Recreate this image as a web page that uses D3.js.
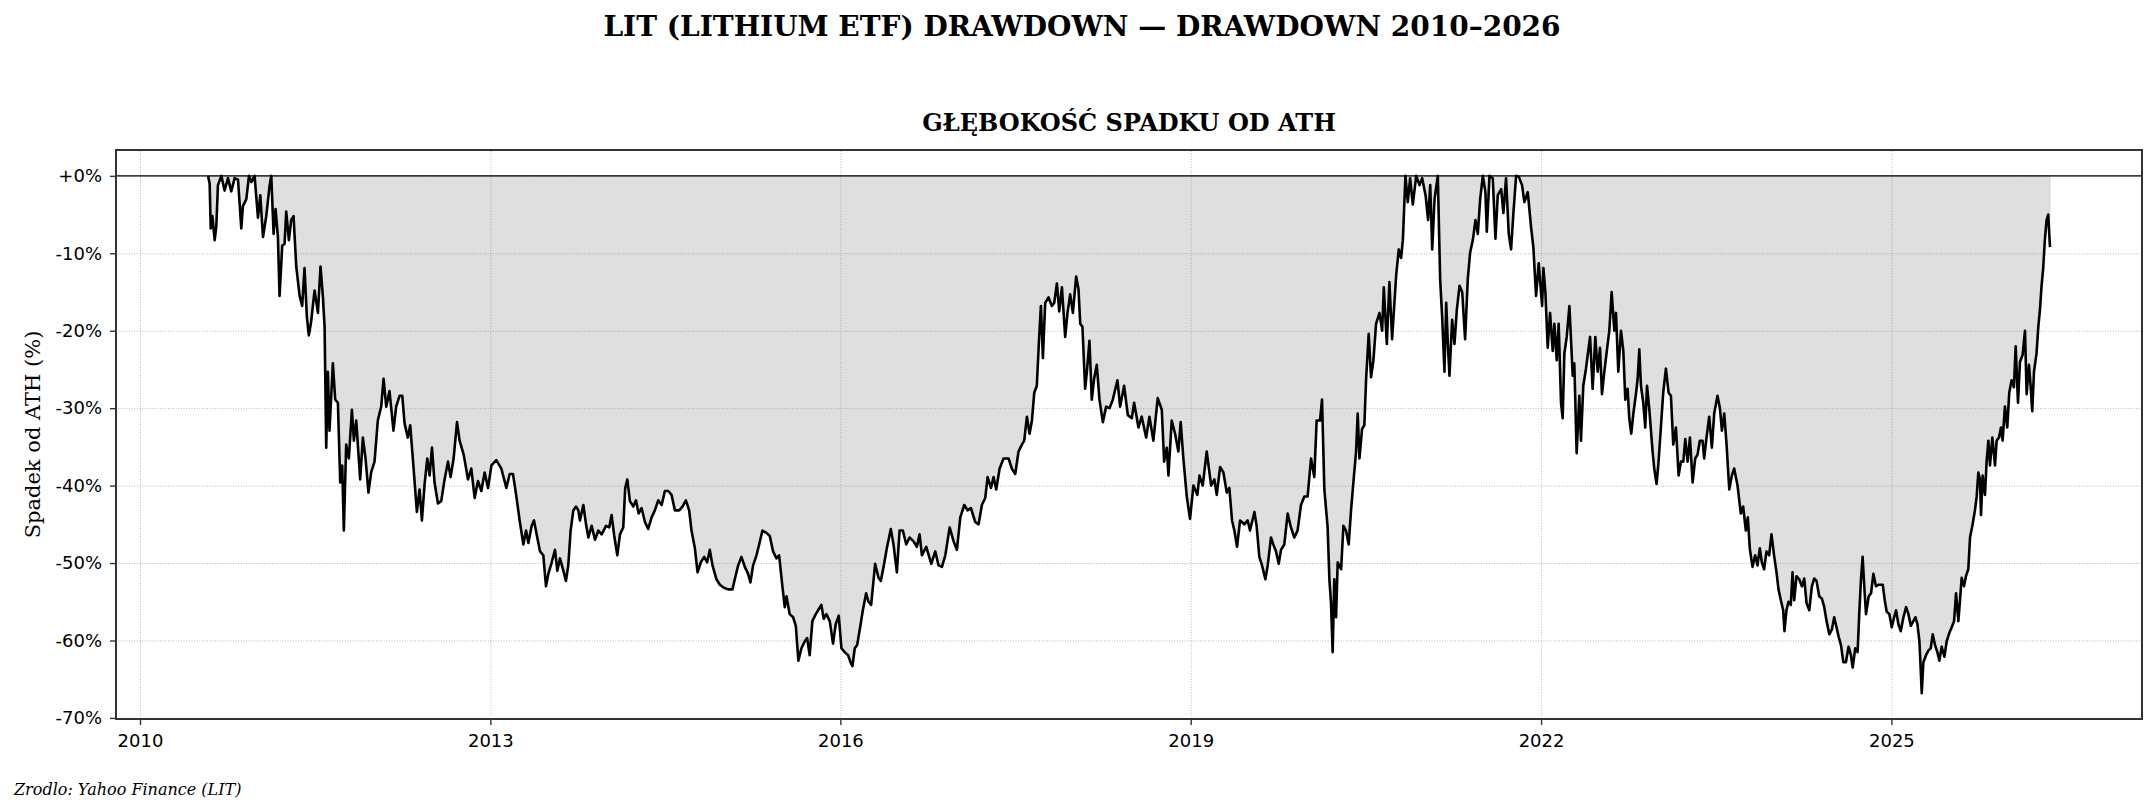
<!DOCTYPE html>
<html lang="pl">
<head>
<meta charset="utf-8">
<title>LIT drawdown</title>
<script src="https://cdn.jsdelivr.net/npm/d3@7"></script>
<style>
  body { margin: 0; background: #fff; }
  .tick text { font-family: "DejaVu Sans", sans-serif; font-size: 18px; fill: #000; }
  .axis .tick line { stroke: #333; stroke-width: 1.4; }
  .grid .tick line { stroke: #b8b8b8; stroke-width: 1; stroke-dasharray: 1,1.6; }
  .grid .domain { display: none; }
</style>
</head>
<body>
<div id="chart"></div>
<script>
// texts
const pageTitle = "LIT (LITHIUM ETF) DRAWDOWN \u2014 DRAWDOWN 2010\u20132026";
const panelTitle = "GŁĘBOKOŚĆ SPADKU OD ATH";
const yLabel = "Spadek od ATH (%)";
const sourceNote = "Zrodlo: Yahoo Finance (LIT)";

// ticks
const xTickYears = [2010, 2013, 2016, 2019, 2022, 2025];
const yTickValues = [0, -10, -20, -30, -40, -50, -60, -70];

// drawdown from all-time high, [fractional year, %]
const drawdown = [
  [2010.583, 0], [2010.597, -1], [2010.606, -6.8], [2010.620, -5.2], [2010.640, -8.3], [2010.654, -6.5],
  [2010.668, -1.2], [2010.697, 0], [2010.725, -1.9], [2010.754, -0.3], [2010.782, -2], [2010.811, -0.3],
  [2010.840, -0.5], [2010.868, -6.8], [2010.882, -3.9], [2010.911, -3], [2010.934, 0], [2010.954, -0.8],
  [2010.982, 0], [2011.011, -5.4], [2011.031, -2.5], [2011.054, -7.9], [2011.082, -5.2], [2011.111, -1.2],
  [2011.125, 0], [2011.145, -7.5], [2011.162, -4.3], [2011.182, -7.9], [2011.196, -15.5], [2011.219, -9],
  [2011.239, -8.8], [2011.253, -4.6], [2011.276, -8.3], [2011.296, -5.7], [2011.316, -5.2], [2011.339, -11.7],
  [2011.368, -15.5], [2011.390, -16.8], [2011.410, -11.9], [2011.430, -18.2], [2011.447, -20.6], [2011.467, -18.8],
  [2011.496, -14.8], [2011.525, -17.7], [2011.547, -11.7], [2011.567, -15.5], [2011.582, -19.5], [2011.596, -35.1],
  [2011.610, -25.3], [2011.624, -32.9], [2011.653, -24.2], [2011.673, -28.9], [2011.696, -29.3], [2011.716, -39.6],
  [2011.733, -37.4], [2011.747, -45.8], [2011.767, -34.7], [2011.790, -36.5], [2011.816, -30.2], [2011.833, -34.2],
  [2011.853, -31.6], [2011.887, -39.2], [2011.910, -33.8], [2011.933, -36.5], [2011.958, -40.9], [2011.981, -38.3],
  [2012.010, -36.9], [2012.038, -31.6], [2012.067, -29.8], [2012.087, -26.2], [2012.110, -29.8], [2012.138, -27.8],
  [2012.172, -32.9], [2012.195, -29.8], [2012.224, -28.4], [2012.247, -28.4], [2012.267, -32], [2012.295, -33.8],
  [2012.315, -32.2], [2012.344, -37.8], [2012.372, -43.4], [2012.395, -40.5], [2012.415, -44.5], [2012.438, -39.8],
  [2012.461, -36.5], [2012.481, -38.7], [2012.501, -35.1], [2012.523, -39.6], [2012.552, -42.3], [2012.580, -42],
  [2012.609, -39.2], [2012.638, -36.9], [2012.660, -38.9], [2012.686, -36.5], [2012.715, -31.8], [2012.737, -34.2],
  [2012.772, -36], [2012.809, -39.2], [2012.837, -37.8], [2012.866, -41.6], [2012.894, -39.4], [2012.923, -40.7],
  [2012.951, -38.3], [2012.980, -40.3], [2013.009, -37.4], [2013.051, -36.7], [2013.094, -37.8], [2013.137, -40.3],
  [2013.166, -38.5], [2013.194, -38.5], [2013.223, -41.4], [2013.251, -44.5],
  [2013.283, -47.6], [2013.306, -45.8], [2013.326, -47.4], [2013.354, -45.2], [2013.374, -44.5], [2013.397, -46.3],
  [2013.426, -48.5], [2013.454, -49], [2013.477, -53], [2013.497, -51.4], [2013.526, -49.9], [2013.554, -48.3],
  [2013.574, -51], [2013.597, -49.4], [2013.626, -51], [2013.648, -52.3], [2013.668, -50.3], [2013.688, -45.8],
  [2013.711, -43.2], [2013.734, -42.7], [2013.754, -43.2], [2013.768, -44.5], [2013.797, -42.5], [2013.820, -45],
  [2013.840, -46.7], [2013.868, -45.2], [2013.897, -47], [2013.925, -45.8], [2013.954, -46.3], [2013.991, -45.2],
  [2014.019, -45.4], [2014.039, -43.8], [2014.062, -46.5], [2014.088, -49], [2014.111, -46.3], [2014.139, -45.4],
  [2014.156, -40.3], [2014.174, -39.2], [2014.196, -42], [2014.225, -42.7], [2014.248, -41.9], [2014.271, -43.6],
  [2014.296, -42.9], [2014.325, -44.7], [2014.353, -45.6], [2014.382, -44.1], [2014.410, -43.2], [2014.439, -41.9],
  [2014.468, -42.5], [2014.496, -40.7], [2014.525, -40.7], [2014.553, -41.2], [2014.582, -43.2], [2014.619, -43.2],
  [2014.647, -42.7], [2014.676, -41.9], [2014.704, -43.2], [2014.724, -45.8], [2014.753, -48.1], [2014.776, -51.2],
  [2014.804, -49.9], [2014.833, -49.2], [2014.858, -49.9], [2014.881, -48.3], [2014.904, -50.3], [2014.938, -52.1],
  [2014.967, -52.8], [2015.001, -53.2], [2015.038, -53.4], [2015.075, -53.4], [2015.095, -52.1], [2015.124, -50.3],
  [2015.152, -49.2], [2015.181, -50.5], [2015.209, -51.4], [2015.229, -52.5], [2015.252, -50.3], [2015.281, -49],
  [2015.304, -47.6], [2015.332, -45.8], [2015.366, -46.1], [2015.395, -46.5], [2015.423, -48.5], [2015.452, -49.4],
  [2015.475, -49], [2015.503, -53], [2015.523, -55.7], [2015.538, -54.3], [2015.566, -56.6], [2015.595, -57],
  [2015.618, -58.1], [2015.640, -62.6], [2015.666, -61], [2015.695, -60.1], [2015.715, -59.7], [2015.737, -61.9],
  [2015.760, -57.5], [2015.789, -56.6], [2015.817, -55.9], [2015.837, -55.4], [2015.857, -57.2], [2015.880, -56.6],
  [2015.909, -57.5], [2015.937, -60.4], [2015.960, -57.9], [2015.986, -56.8], [2016.009, -61], [2016.037, -61.5],
  [2016.066, -61.9], [2016.086, -62.8], [2016.103, -63.3], [2016.123, -61], [2016.143, -60.6],
  [2016.169, -58.3], [2016.192, -56.1], [2016.220, -53.9], [2016.240, -55], [2016.263, -55.4], [2016.297, -50.1],
  [2016.326, -51.9], [2016.346, -52.3], [2016.369, -50.5], [2016.397, -48.1], [2016.431, -45.6], [2016.454, -47.6],
  [2016.483, -51.2], [2016.506, -45.8], [2016.534, -45.8], [2016.563, -47.6], [2016.591, -46.7], [2016.625, -47.2],
  [2016.654, -47.9], [2016.677, -46.3], [2016.697, -49], [2016.734, -47.9], [2016.777, -50.1], [2016.811, -48.5],
  [2016.839, -50.3], [2016.868, -50.5], [2016.897, -49], [2016.934, -45.4], [2016.968, -47.2], [2016.996, -48.3],
  [2017.025, -44.1], [2017.059, -42.5], [2017.088, -43.2], [2017.116, -42.9], [2017.153, -44.7], [2017.182, -45],
  [2017.210, -42.5], [2017.239, -41.6], [2017.259, -38.9], [2017.288, -40.3], [2017.310, -38.9], [2017.333, -40.5],
  [2017.362, -37.8], [2017.396, -36.5], [2017.439, -36.5], [2017.467, -37.8], [2017.496, -38.5], [2017.524, -35.6],
  [2017.553, -34.7], [2017.573, -34.2], [2017.596, -31.1], [2017.619, -33.3], [2017.639, -31.6], [2017.659, -28],
  [2017.681, -27.1], [2017.701, -20.8], [2017.716, -16.8], [2017.733, -23.5], [2017.753, -16.4], [2017.781, -15.7],
  [2017.810, -16.8], [2017.830, -16.4], [2017.853, -13.9], [2017.873, -17.5], [2017.896, -14.4], [2017.924, -20.8],
  [2017.944, -17.7], [2017.967, -15.3], [2017.990, -17.7], [2018.018, -13], [2018.038, -14.6], [2018.053, -19.1],
  [2018.072, -19.5], [2018.095, -27.5], [2018.110, -25.3], [2018.132, -21.3], [2018.152, -28.9], [2018.172, -26.2],
  [2018.195, -24.4], [2018.218, -28.9], [2018.247, -31.8], [2018.275, -29.8], [2018.304, -30], [2018.332, -28.9],
  [2018.372, -26.4], [2018.395, -29.8], [2018.429, -27.1], [2018.461, -30.9], [2018.495, -31.3], [2018.515, -29.3],
  [2018.552, -32.5], [2018.580, -31.1], [2018.618, -33.8], [2018.646, -31.1], [2018.680, -34.2], [2018.717, -28.7],
  [2018.752, -30.2], [2018.772, -36.9], [2018.795, -35.1], [2018.809, -38.7], [2018.837, -31.6], [2018.866, -33.3],
  [2018.894, -35.6], [2018.914, -31.8], [2018.937, -36.5], [2018.966, -41.4], [2018.994, -44.3], [2019.023, -40],
  [2019.057, -41.2],
  [2019.075, -38.7], [2019.103, -40], [2019.137, -35.6], [2019.175, -40], [2019.203, -39.2], [2019.223, -41.2],
  [2019.252, -37.6], [2019.280, -38.3], [2019.309, -40.9], [2019.331, -40.3], [2019.354, -44.5], [2019.374, -45.8],
  [2019.397, -47.9], [2019.423, -44.5], [2019.460, -45], [2019.488, -44.5], [2019.508, -45.8], [2019.546, -43.4],
  [2019.565, -45.2], [2019.588, -49.2], [2019.611, -50.3], [2019.640, -52.1], [2019.660, -50.3], [2019.688, -46.7],
  [2019.708, -47.6], [2019.731, -48.5], [2019.754, -50.1], [2019.774, -48.3], [2019.802, -47.6], [2019.831, -43.6],
  [2019.859, -45.4], [2019.888, -46.7], [2019.916, -45.8], [2019.945, -42.5], [2019.974, -41.4], [2020.002, -41.4],
  [2020.031, -36.5], [2020.059, -38.9], [2020.079, -31.6], [2020.108, -31.6], [2020.125, -28.9], [2020.145, -40.5],
  [2020.173, -45.4], [2020.188, -52.1], [2020.202, -55.2], [2020.216, -61.5], [2020.230, -52.1], [2020.245, -57],
  [2020.259, -49.9], [2020.288, -50.8], [2020.308, -45.2], [2020.330, -45.8], [2020.353, -47.6], [2020.373, -43.2],
  [2020.393, -39.6], [2020.416, -35.6], [2020.430, -30.7], [2020.445, -36.5], [2020.467, -32.7], [2020.487, -32.2],
  [2020.502, -26.2], [2020.524, -20.4], [2020.544, -26], [2020.564, -23.9], [2020.587, -19.1], [2020.616, -17.7],
  [2020.639, -20], [2020.653, -14.4], [2020.679, -21.7], [2020.701, -13.7], [2020.724, -21.1], [2020.759, -12.8],
  [2020.781, -9.5], [2020.801, -10.6], [2020.816, -8.3], [2020.838, 0], [2020.858, -3.4], [2020.878, -0.3],
  [2020.901, -3.7], [2020.930, 0], [2020.958, -1.2], [2020.981, -0.3], [2021.010, -2.5], [2021.032, -5.7],
  [2021.050, -1.2], [2021.067, -9.5], [2021.087, -3], [2021.115, 0], [2021.135, -13.3], [2021.152, -18.2],
  [2021.172, -25.3], [2021.187, -16.4], [2021.201, -21.7], [2021.215, -25.8], [2021.238, -18.6], [2021.258, -21.7],
  [2021.278, -17.3], [2021.301, -14.2], [2021.324, -15], [2021.349, -21.1], [2021.372, -13.3], [2021.392, -9.9],
  [2021.415, -8.3], [2021.438, -5.7], [2021.458, -7.5], [2021.478, -3], [2021.501, 0], [2021.523, -2.1],
  [2021.535, -7.2], [2021.558, 0], [2021.586, -0.3], [2021.609, -8.1], [2021.629, -2.5], [2021.658, -1.7],
  [2021.677, -4.8], [2021.700, -0.3], [2021.723, -7.5], [2021.743, -9.5], [2021.763, -4.8], [2021.786, 0],
  [2021.809, -0.1], [2021.837, -1.2], [2021.857, -3.4], [2021.886, -2.1], [2021.914, -6.6], [2021.934, -9.2],
  [2021.957, -15.5], [2021.980, -11.3],
  [2022.009, -16.8], [2022.020, -11.9], [2022.037, -15], [2022.057, -22.2], [2022.077, -17.7], [2022.100, -22.6],
  [2022.114, -19.1], [2022.134, -23.8], [2022.151, -19.1], [2022.171, -29.3], [2022.185, -31.3], [2022.200, -22.9],
  [2022.220, -20.8], [2022.243, -16.8], [2022.271, -25.8], [2022.285, -24.2], [2022.305, -35.8], [2022.328, -28.4],
  [2022.342, -34.2], [2022.362, -27.1], [2022.385, -24.9], [2022.400, -23.1], [2022.420, -20.8], [2022.442, -27.5],
  [2022.465, -20.8], [2022.485, -25.3], [2022.505, -22.2], [2022.522, -28.2], [2022.542, -25.3], [2022.571, -21.7],
  [2022.585, -20], [2022.605, -15], [2022.628, -20], [2022.642, -17.7], [2022.662, -25.3], [2022.685, -20],
  [2022.705, -22.6], [2022.722, -28.9], [2022.742, -27.5], [2022.756, -31.3], [2022.773, -33.3], [2022.791, -30.7],
  [2022.813, -28.2], [2022.828, -26.2], [2022.842, -22.4], [2022.856, -27.1], [2022.876, -29.3], [2022.893, -32.5],
  [2022.908, -27.1], [2022.928, -30.2], [2022.956, -35.6], [2022.970, -37.8], [2022.990, -39.8], [2023.007, -36.9],
  [2023.027, -32.5], [2023.047, -28], [2023.070, -24.9], [2023.093, -28], [2023.113, -28.4], [2023.133, -34.7],
  [2023.156, -32.5], [2023.179, -38.7], [2023.199, -36.9], [2023.219, -36.9], [2023.236, -34], [2023.256, -36.9],
  [2023.276, -33.8], [2023.299, -39.6], [2023.321, -36.5], [2023.341, -36], [2023.361, -34.2], [2023.384, -34.2],
  [2023.398, -36.5], [2023.418, -33.8], [2023.441, -31.1], [2023.464, -35.1], [2023.484, -30.7], [2023.512, -28.4],
  [2023.533, -30], [2023.550, -32.9], [2023.570, -30.7], [2023.590, -34.7], [2023.613, -40.5], [2023.635, -38.7],
  [2023.655, -37.8], [2023.684, -40], [2023.712, -43.6], [2023.732, -42.7], [2023.755, -45.8], [2023.772, -44.1],
  [2023.789, -48.1], [2023.812, -50.5], [2023.835, -49], [2023.855, -50.3], [2023.875, -48.1], [2023.892, -49.9],
  [2023.912, -50.8], [2023.932, -48.5], [2023.955, -49], [2023.975, -46.3], [2023.997, -49], [2024.018, -51.2],
  [2024.035, -53.4], [2024.055, -54.8], [2024.075, -56.1], [2024.086, -58.8], [2024.103, -56.1], [2024.120, -55],
  [2024.140, -55.4], [2024.155, -51.2], [2024.169, -54.8], [2024.189, -51.7], [2024.212, -52.1], [2024.235, -53],
  [2024.255, -52], [2024.275, -55.2], [2024.298, -56.1], [2024.320, -53], [2024.340, -52], [2024.360, -52.3],
  [2024.383, -54.3], [2024.406, -54.6], [2024.426, -55.7], [2024.446, -57.5], [2024.469, -59.2], [2024.491, -58.6],
  [2024.511, -57], [2024.531, -58.3], [2024.549, -59.5], [2024.569, -60.6], [2024.589, -62.8], [2024.611, -62.8],
  [2024.634, -60.8], [2024.654, -61.9], [2024.669, -63.5], [2024.691, -61], [2024.711, -61.5], [2024.725, -56.6],
  [2024.740, -52.1], [2024.754, -49.2], [2024.768, -53], [2024.783, -56.6], [2024.806, -54.3], [2024.826, -53.9],
  [2024.846, -51.4], [2024.868, -53], [2024.891, -52.8],
  [2024.926, -52.8], [2024.943, -54.8], [2024.960, -56.3], [2024.983, -56.6], [2025.003, -58.3], [2025.023, -57],
  [2025.040, -56.1], [2025.060, -57.9], [2025.080, -58.8], [2025.103, -57], [2025.126, -55.7], [2025.146, -56.6],
  [2025.166, -58.1], [2025.188, -57.5], [2025.206, -57], [2025.223, -57.9], [2025.240, -60.1], [2025.251, -63.7],
  [2025.260, -66.8], [2025.274, -62.8], [2025.297, -61.9], [2025.317, -61.3], [2025.337, -61], [2025.354, -59.2],
  [2025.374, -60.6], [2025.394, -61.5], [2025.411, -62.6], [2025.431, -60.8], [2025.454, -62.1], [2025.474, -60.1],
  [2025.497, -59], [2025.517, -58.3], [2025.537, -57.5], [2025.554, -53.9], [2025.574, -57.5], [2025.588, -54.8],
  [2025.602, -51.9], [2025.622, -53], [2025.639, -51.7], [2025.659, -50.8], [2025.674, -46.7], [2025.696, -45],
  [2025.716, -43.2], [2025.731, -41.4], [2025.745, -38.3], [2025.759, -39.2], [2025.768, -43.8], [2025.782, -38.7],
  [2025.802, -41.2], [2025.816, -36.9], [2025.831, -34.2], [2025.845, -37.4], [2025.865, -33.8], [2025.888, -37.4],
  [2025.902, -34.2], [2025.922, -33.8], [2025.939, -32.5], [2025.953, -34.2], [2025.973, -29.8], [2025.993, -32.5],
  [2026.010, -28], [2026.030, -26.4], [2026.050, -27.3], [2026.065, -22], [2026.085, -29.3], [2026.102, -24],
  [2026.125, -23.1], [2026.145, -20], [2026.159, -28.2], [2026.179, -24.4], [2026.193, -27.1], [2026.207, -30.4],
  [2026.222, -25.3], [2026.244, -22.9], [2026.259, -19.5], [2026.273, -17.3], [2026.287, -14.2], [2026.301, -11.9],
  [2026.316, -8.1], [2026.330, -5.7], [2026.344, -5], [2026.359, -9.2]
];

// fractional year -> Date
function toDate(fy) {
  const yr = Math.floor(fy);
  const a = Date.UTC(yr, 0, 1), b = Date.UTC(yr + 1, 0, 1);
  return new Date(a + (fy - yr) * (b - a));
}

const W = 2156, H = 812;
const margin = { top: 150, right: 14, bottom: 93, left: 116 };
const width = W - margin.left - margin.right,
      height = H - margin.top - margin.bottom;

const svg = d3.select("#chart").append("svg")
  .attr("width", W).attr("height", H)
  .style("display", "block")
  .style("background", "#fff");

// titles
svg.append("text")
  .attr("x", 1082).attr("y", 36)
  .attr("text-anchor", "middle")
  .style("font-family", "'DejaVu Serif', serif")
  .style("font-weight", "bold")
  .style("font-size", "28px")
  .text(pageTitle);

svg.append("text")
  .attr("x", margin.left + width / 2).attr("y", 131)
  .attr("text-anchor", "middle")
  .style("font-family", "'DejaVu Serif', serif")
  .style("font-weight", "bold")
  .style("font-size", "24px")
  .text(panelTitle);

svg.append("text")
  .attr("x", 14).attr("y", 795)
  .style("font-family", "'DejaVu Serif', serif")
  .style("font-style", "italic")
  .style("font-size", "16px")
  .text(sourceNote);

const g = svg.append("g")
  .attr("transform", "translate(" + margin.left + "," + margin.top + ")");

// scales with matplotlib-like 5% margins
const tExt = d3.extent(drawdown, d => d[0]);
const tPad = (tExt[1] - tExt[0]) * 0.05;
const x = d3.scaleUtc()
  .domain([toDate(tExt[0] - tPad), toDate(tExt[1] + tPad)])
  .range([0, width]);

const vMin = d3.min(drawdown, d => d[1]), vMax = d3.max(drawdown, d => d[1]);
const vPad = (vMax - vMin) * 0.05;
const y = d3.scaleLinear()
  .domain([vMin - vPad, vMax + vPad])
  .range([height, 0]);

const xTicks = xTickYears.map(yr => new Date(Date.UTC(yr, 0, 1)));

// grid
g.append("g").attr("class", "grid")
  .attr("transform", "translate(0," + height + ")")
  .call(d3.axisBottom(x).tickValues(xTicks).tickSize(-height).tickFormat(""));
g.append("g").attr("class", "grid")
  .call(d3.axisLeft(y).tickValues(yTickValues).tickSize(-width).tickFormat(""));

// filled drawdown
const area = d3.area()
  .x(d => x(toDate(d[0])))
  .y0(y(0))
  .y1(d => y(d[1]));
g.append("path")
  .datum(drawdown)
  .attr("d", area)
  .attr("fill", "rgba(128,128,128,0.25)")
  .attr("stroke", "rgba(128,128,128,0.25)")
  .attr("stroke-width", 1);

// zero line
g.append("line")
  .attr("x1", 0).attr("x2", width)
  .attr("y1", y(0)).attr("y2", y(0))
  .attr("stroke", "#000")
  .attr("stroke-width", 1.3);

// drawdown line
const line = d3.line()
  .x(d => x(toDate(d[0])))
  .y(d => y(d[1]));
g.append("path")
  .datum(drawdown)
  .attr("d", line)
  .attr("fill", "none")
  .attr("stroke", "#000")
  .attr("stroke-width", 2.6)
  .attr("stroke-linejoin", "round");

// axes
g.append("g").attr("class", "axis")
  .attr("transform", "translate(0," + height + ")")
  .call(d3.axisBottom(x).tickValues(xTicks).tickSize(6).tickPadding(9)
    .tickFormat(d3.utcFormat("%Y")));
g.append("g").attr("class", "axis")
  .call(d3.axisLeft(y).tickValues(yTickValues).tickSize(6).tickPadding(8)
    .tickFormat(v => (v >= 0 ? "+" : "-") + Math.abs(v) + "%"));
g.selectAll(".axis .domain").remove();

// spines
g.append("rect")
  .attr("x", 0).attr("y", 0)
  .attr("width", width).attr("height", height)
  .attr("fill", "none")
  .attr("stroke", "#333")
  .attr("stroke-width", 2);

// y label
svg.append("text")
  .attr("transform", "translate(40," + (margin.top + height / 2) + ") rotate(-90)")
  .attr("text-anchor", "middle")
  .style("font-family", "'DejaVu Serif', serif")
  .style("font-size", "21px")
  .text(yLabel);
</script>
</body>
</html>
